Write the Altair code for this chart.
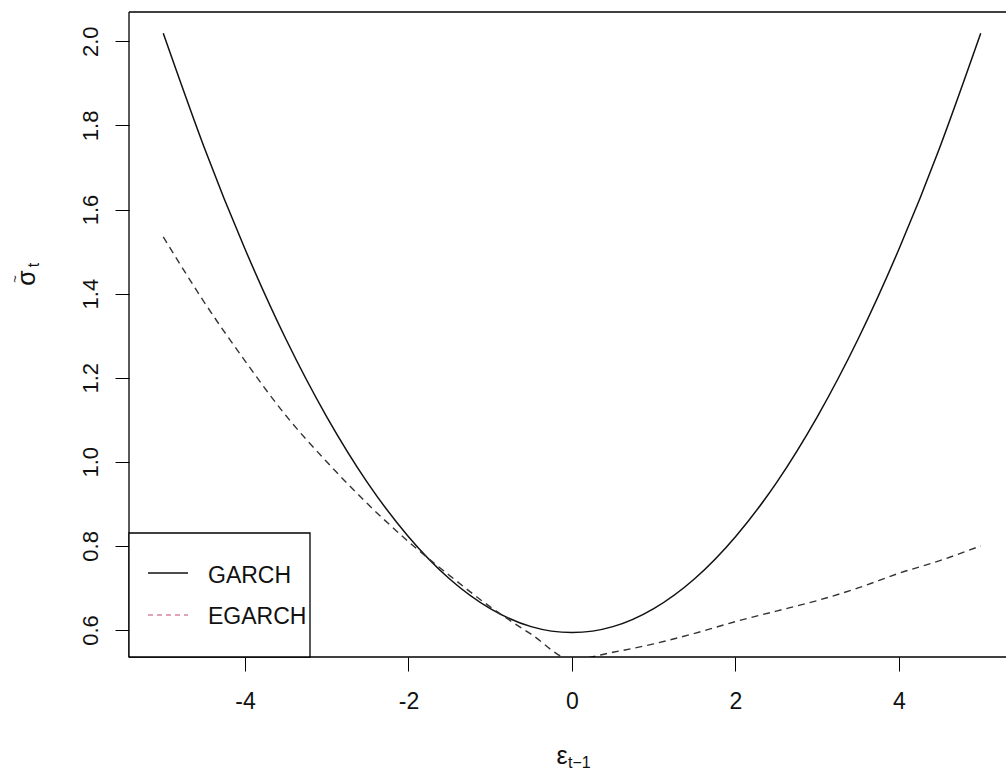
import altair as alt
import pandas as pd

# ---- data ----
eps = [-5.0, -4.5, -4.0, -3.5, -3.0, -2.5, -2.0, -1.5, -1.0, -0.5, 0.0,
       0.5, 1.0, 1.5, 2.0, 2.5, 3.0, 3.5, 4.0, 4.5, 5.0]
garch = [2.019, 1.748, 1.506, 1.292, 1.107, 0.950, 0.822, 0.722, 0.651, 0.608, 0.594,
         0.608, 0.651, 0.722, 0.822, 0.950, 1.107, 1.292, 1.506, 1.748, 2.019]
egarch = [1.535, 1.38, 1.24, 1.11, 1.00, 0.90, 0.81, 0.73, 0.655, 0.59, 0.53,
          0.547, 0.567, 0.592, 0.62, 0.645, 0.67, 0.70, 0.735, 0.765, 0.80]
x_ticks = [-4, -2, 0, 2, 4]
y_ticks = [0.6, 0.8, 1.0, 1.2, 1.4, 1.6, 1.8, 2.0]
legend_labels = ["GARCH", "EGARCH"]

W, H = 877, 645
XDOM = [-5.419, 5.309]
YDOM = [0.5358, 2.0697]
FONT = "Liberation Sans"

df_g = pd.DataFrame({"eps": eps, "sigma": garch})
df_e = pd.DataFrame({"eps": eps, "sigma": egarch})

xs = alt.Scale(domain=XDOM, nice=False, zero=False)
ys = alt.Scale(domain=YDOM, nice=False, zero=False)

x_axis = alt.Axis(values=x_ticks, title=None, grid=False, domain=False,
                  tickSize=14, tickColor="#000", tickWidth=1,
                  labelFont=FONT, labelFontSize=23, labelColor="#111",
                  labelPadding=19, labelBaseline="top", labelFlush=False,
                  labelExpr="'' + datum.value")
y_axis = alt.Axis(values=y_ticks, title=None, grid=False, domain=False,
                  tickSize=14, tickColor="#000", tickWidth=1,
                  labelFont=FONT, labelFontSize=22, labelColor="#111",
                  labelAngle=270, labelAlign="center", labelBaseline="alphabetic",
                  labelPadding=18, labelFlush=False, format=".1f")

line_g = alt.Chart(df_g).mark_line(color="#111", strokeWidth=1.5,
                                    interpolate="natural", clip=True).encode(
    x=alt.X("eps:Q", scale=xs, axis=x_axis),
    y=alt.Y("sigma:Q", scale=ys, axis=y_axis),
)
line_e = alt.Chart(df_e).mark_line(color="#333", strokeWidth=1.4,
                                    strokeDash=[7, 5], interpolate="monotone",
                                    clip=True).encode(
    x=alt.X("eps:Q", scale=xs),
    y=alt.Y("sigma:Q", scale=ys),
)

one = pd.DataFrame({"a": [0]})
base = alt.Chart(one)

# plot box (left, top, bottom; the right edge lies outside the picture)
box_left = base.mark_rule(color="#000", strokeWidth=1.3).encode(
    x=alt.value(0), y=alt.value(0), y2=alt.value(H))
box_top = base.mark_rule(color="#000", strokeWidth=1.3).encode(
    x=alt.value(0), x2=alt.value(W), y=alt.value(0))
box_bot = base.mark_rule(color="#000", strokeWidth=1.3).encode(
    x=alt.value(0), x2=alt.value(W), y=alt.value(H))

# legend
leg_box = base.mark_rect(fill="white", stroke="#000", strokeWidth=1.3).encode(
    x=alt.value(0), x2=alt.value(181), y=alt.value(521), y2=alt.value(H))
leg_l1 = base.mark_rule(color="#111", strokeWidth=1.5).encode(
    x=alt.value(19), x2=alt.value(59), y=alt.value(561))
leg_l2 = base.mark_rule(color="#c04a6a", strokeWidth=1.2, strokeDash=[5, 4]).encode(
    x=alt.value(19), x2=alt.value(59), y=alt.value(603))
leg_t1 = base.mark_text(text=legend_labels[0], font=FONT, fontSize=23, color="#111",
                        align="left", baseline="middle").encode(
    x=alt.value(79), y=alt.value(564))
leg_t2 = base.mark_text(text=legend_labels[1], font=FONT, fontSize=23, color="#111",
                        align="left", baseline="middle").encode(
    x=alt.value(79), y=alt.value(605))

# axis titles
xt_main = base.mark_text(text="ε", font=FONT, fontSize=25, color="#111",
                         align="center", baseline="middle").encode(
    x=alt.value(433), y=alt.value(744))
xt_sub = base.mark_text(text="t−1", font=FONT, fontSize=16, color="#111",
                        align="left", baseline="middle").encode(
    x=alt.value(439), y=alt.value(751))
yt_main = base.mark_text(text="σ", font=FONT, fontSize=25, color="#111", angle=270,
                         align="center", baseline="middle").encode(
    x=alt.value(-102), y=alt.value(266))
yt_sub = base.mark_text(text="t", font=FONT, fontSize=16, color="#111", angle=270,
                        align="center", baseline="middle").encode(
    x=alt.value(-95), y=alt.value(253))
yt_acc = base.mark_text(text="~", font=FONT, fontSize=13, color="#111", angle=270,
                        align="center", baseline="middle").encode(
    x=alt.value(-114), y=alt.value(267))

chart = alt.layer(
    line_g, line_e, box_left, box_top, box_bot,
    leg_box, leg_l1, leg_l2, leg_t1, leg_t2,
    xt_main, xt_sub, yt_main, yt_sub, yt_acc,
).properties(
    width=W, height=H,
    autosize=alt.AutoSizeParams(type="none"),
    padding={"left": 129, "top": 12, "right": 1, "bottom": 113},
    background="white",
).configure_view(stroke=None)

chart.save("out.html", embed_options={"renderer": "svg", "actions": False})
